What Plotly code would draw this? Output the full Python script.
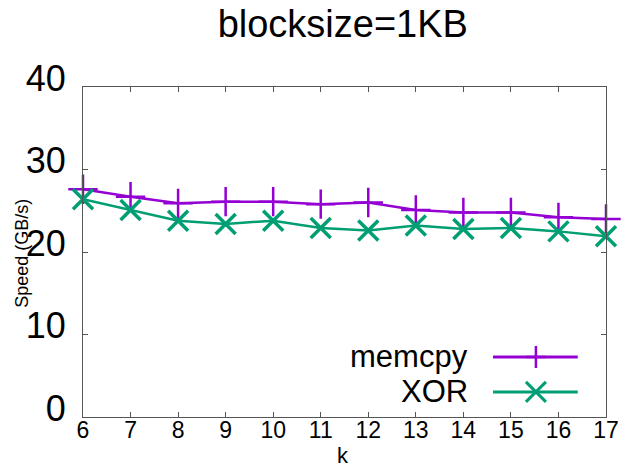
import plotly.graph_objects as go

# Block size sweep: k values and measured throughput (GB/s)
k_values = [6, 7, 8, 9, 10, 11, 12, 13, 14, 15, 16, 17]
memcpy_speed = [27.6, 26.7, 25.9, 26.1, 26.1, 25.8, 26.0, 25.1, 24.8, 24.8, 24.2, 24.0]
xor_speed = [26.4, 25.1, 23.8, 23.4, 23.8, 22.9, 22.6, 23.2, 22.8, 22.9, 22.5, 21.9]
series_names = ["memcpy", "XOR"]
y_ticks = [0, 10, 20, 30, 40]

PURPLE = "#9400D3"
GREEN = "#009E73"
FONT = "Liberation Sans"

fig = go.Figure()
fig.add_trace(go.Scatter(
    x=k_values, y=memcpy_speed, mode="lines+markers", name=series_names[0],
    line=dict(color=PURPLE, width=2.5),
    marker=dict(symbol="cross-thin", size=21, line=dict(color=PURPLE, width=2.5)),
    cliponaxis=False,
))
fig.add_trace(go.Scatter(
    x=k_values, y=xor_speed, mode="lines+markers", name=series_names[1],
    line=dict(color=GREEN, width=2.5),
    marker=dict(symbol="x-thin", size=20, line=dict(color=GREEN, width=3.5)),
    cliponaxis=False,
))

# Hand-built key: right-aligned labels with line samples to their right
legend_rows = [(series_names[0], PURPLE, "M-10,0 L10,0 M0,-11 L0,11", 0.182),
               (series_names[1], GREEN, "M-10,-10 L10,10 M-10,10 L10,-10", 0.076)]
shapes = []
annotations = []
for name, color, glyph, ypos in legend_rows:
    annotations.append(dict(
        text=name, xref="paper", yref="paper", x=0.740, y=ypos,
        xanchor="right", yanchor="middle", showarrow=False,
        font=dict(family=FONT, size=31, color="black"),
    ))
    shapes.append(dict(
        type="line", xref="paper", yref="paper", x0=0.784, x1=0.946, y0=ypos, y1=ypos,
        line=dict(color=color, width=3),
    ))
    shapes.append(dict(
        type="path", xref="paper", yref="paper", xsizemode="pixel", ysizemode="pixel",
        xanchor=0.866, yanchor=ypos, path=glyph,
        line=dict(color=color, width=3 if color == GREEN else 2.5),
    ))

# Axis captions placed in the margins
annotations.append(dict(
    text="Speed (GB/s)", xref="paper", yref="paper", x=-0.117, y=0.497,
    xanchor="center", yanchor="middle", textangle=-90, showarrow=False,
    font=dict(family=FONT, size=18, color="black"),
))
annotations.append(dict(
    text="k", xref="paper", yref="paper", x=0.497, y=-0.116,
    xanchor="center", yanchor="middle", showarrow=False,
    font=dict(family=FONT, size=22, color="black"),
))

fig.update_layout(
    width=621, height=467,
    margin=dict(l=83, r=15, t=87, b=50),
    paper_bgcolor="white", plot_bgcolor="white",
    showlegend=False,
    title=dict(text="blocksize=1KB", x=0.552, xanchor="center", y=0.949, yanchor="middle",
               font=dict(family=FONT, size=38, color="black")),
    font=dict(family=FONT, color="black"),
    shapes=shapes,
    annotations=annotations,
    xaxis=dict(
        range=[6, 17], tickvals=k_values, ticks="inside", ticklen=5, tickcolor="#555",
        showline=True, linecolor="#555", linewidth=1, mirror="ticks", showgrid=False,
        zeroline=False, automargin=False,
        tickfont=dict(family=FONT, size=23, color="black"),
        ticklabelstandoff=-8,
    ),
    yaxis=dict(
        range=[0, 40], tickvals=y_ticks, ticks="inside", ticklen=5, tickcolor="#555",
        showline=True, linecolor="#555", linewidth=1, mirror="ticks", showgrid=False,
        zeroline=False, automargin=False,
        tickfont=dict(family=FONT, size=36, color="black"),
        ticklabelstandoff=9, ticklabelshift=-9,
    ),
)

fig.write_html("out.html")
